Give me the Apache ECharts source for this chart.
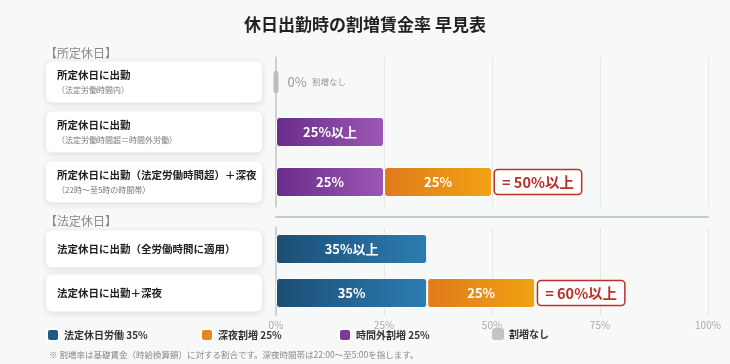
<!DOCTYPE html>
<html>
<head>
<meta charset="utf-8">
<script src="https://cdn.jsdelivr.net/npm/echarts@6/dist/echarts.min.js"></script>
<style>
html,body{margin:0;padding:0;background:#f7f8f8;}
#c{width:730px;height:364px;}
</style>
</head>
<body>
<div id="c"></div>
<script>
// ---- data ----
const rowTitles1 = ['所定休日に出勤', '所定休日に出勤', '所定休日に出勤（法定労働時間超）＋深夜'];
const rowSubs1 = ['（法定労働時間内）', '（法定労働時間超＝時間外労働）', '（22時〜至5時の時間帯）'];
const rowTitles2 = ['法定休日に出勤（全労働時間に適用）', '法定休日に出勤＋深夜'];
const sectionLabels = ['【所定休日】', '【法定休日】'];

const noneValues1 = [0, '-', '-'];
const overtimeValues1 = ['-', 25, 25];
const overtimeLabels1 = ['', '25%以上', '25%'];
const lateNightValues1 = ['-', '-', 25];
const lateNightValues2 = ['-', 25];
const lateNightLabels = ['25%', '25%'];
const holidayValues2 = [35, 35];
const holidayLabels2 = ['35%以上', '35%'];
const totals1 = ['-', '-', 50];
const totals2 = ['-', 60];

const xTicks = [0, 25, 50, 75, 100];
const seriesNames = ['法定休日労働 35%', '深夜割増 25%', '時間外割増 25%', '割増なし'];
const footnote = '※ 割増率は基礎賃金（時給換算額）に対する割合です。深夜時間帯は22:00〜至5:00を指します。';
const chartTitle = '休日出勤時の割増賃金率 早見表';

// ---- style ----
const FONT = '"Noto Sans CJK JP", "Noto Sans", sans-serif';
const grad = (a, b) => new echarts.graphic.LinearGradient(0, 0, 1, 0, [{offset: 0, color: a}, {offset: 1, color: b}]);
const C_BLUE = grad('#1b4e74', '#2b7db3');
const C_ORANGE = grad('#e07a1c', '#f2a212');
const C_PURPLE = grad('#6a2c8a', '#9b58b3');
const C_GRAY = '#bdbdbd';
const SOLID = {blue: '#1f5a85', orange: '#e8861c', purple: '#7d3a9c', gray: '#c3c3c3'};

const cats1 = rowTitles1.map((t, i) => t + '|' + rowSubs1[i]);
const cats2 = rowTitles2.slice();

const cardBase = {
  align: 'left', margin: 230, width: 194,
  backgroundColor: '#ffffff', borderRadius: 6,
  shadowBlur: 7, shadowColor: 'rgba(0,0,0,0.12)', shadowOffsetY: 1.5,
  fontFamily: FONT
};

const xBase = {
  type: 'value', min: 0, max: 100, interval: 25,
  splitLine: {show: true, lineStyle: {color: '#e6e8e8', width: 1}},
  axisTick: {show: false}
};

const barLabel = (arr, size, weight) => ({
  show: true, position: 'inside', color: '#fff', fontFamily: FONT,
  fontWeight: weight, fontSize: size,
  formatter: p => arr[p.dataIndex]
});

const toPoints = arr => arr.map((v, i) => v === '-' ? null : [v, i]).filter(Boolean);

const totalLabel = {
  show: true, position: 'right', distance: 3,
  formatter: p => '= ' + p.value[0] + '%以上',
  color: '#b8322a', fontFamily: FONT, fontWeight: 'bold', fontSize: 14.5,
  backgroundColor: '#fff', borderColor: '#b8322a', borderWidth: 1.5, borderRadius: 3,
  padding: [5, 7, 4, 7]
};

const barItem = c => ({color: c, borderRadius: 3, borderColor: '#fff', borderWidth: 1});

const chart = echarts.init(document.getElementById('c'), null, {renderer: 'canvas'});
chart.setOption({
  backgroundColor: '#f7f8f8',
  animation: false,
  textStyle: {fontFamily: FONT},
  title: [
    {text: chartTitle, left: 'center', top: 11, textStyle: {fontSize: 17, fontWeight: 'bold', color: '#222', fontFamily: FONT}},
    {text: sectionLabels[0], left: 40, top: 42, textStyle: {fontSize: 12, fontWeight: 'normal', color: '#888', fontFamily: FONT}},
    {text: sectionLabels[1], left: 40, top: 210, textStyle: {fontSize: 12, fontWeight: 'normal', color: '#888', fontFamily: FONT}},
    {text: footnote, left: 44, top: 346, textStyle: {fontSize: 8.5, fontWeight: 'normal', color: '#888', fontFamily: FONT}}
  ],
  legend: [
    {name: seriesNames[0], left: 46, color: SOLID.blue},
    {name: seriesNames[1], left: 200, color: SOLID.orange},
    {name: seriesNames[2], left: 338, color: SOLID.purple},
    {name: seriesNames[3], left: 492, color: SOLID.gray}
  ].map(l => ({
    data: [{name: l.name, itemStyle: {color: l.color, opacity: 1}}],
    left: l.left, top: 328, padding: 0, icon: 'roundRect',
    itemWidth: 12, itemHeight: 12, itemGap: 5,
    textStyle: {fontSize: 10, fontWeight: 'bold', color: '#333', fontFamily: FONT}
  })),
  grid: [
    {left: 276, right: 22, top: 57, height: 150},
    {left: 276, right: 22, top: 227, height: 88}
  ],
  xAxis: [
    Object.assign({}, xBase, {gridIndex: 0, offset: 10,
      axisLabel: {show: false},
      axisLine: {show: true, lineStyle: {color: '#c8cbcb', width: 2}}}),
    Object.assign({}, xBase, {gridIndex: 1,
      axisLine: {show: false},
      axisLabel: {show: true, color: '#aaa', fontSize: 10, margin: 5, formatter: '{value}%', fontFamily: FONT}})
  ],
  yAxis: [
    {type: 'category', gridIndex: 0, inverse: true, data: cats1,
      axisTick: {show: false},
      axisLine: {show: true, lineStyle: {color: '#c4c6c6', width: 1.5}},
      axisLabel: Object.assign({}, cardBase, {
        padding: [6, 11, 6, 11],
        formatter: v => { const p = v.split('|'); return '{t|' + p[0] + '}\n{s|' + p[1] + '}'; },
        rich: {
          t: {fontSize: 10.5, fontWeight: 'bold', color: '#222', lineHeight: 16, fontFamily: FONT},
          s: {fontSize: 8, color: '#777', lineHeight: 13, fontFamily: FONT}
        }
      })},
    {type: 'category', gridIndex: 1, inverse: true, data: cats2,
      axisTick: {show: false},
      axisLine: {show: true, lineStyle: {color: '#c4c6c6', width: 1.5}},
      axisLabel: Object.assign({}, cardBase, {
        padding: [11, 11, 11, 11], lineHeight: 15,
        fontSize: 10.5, fontWeight: 'bold', color: '#222'
      })}
  ],
  series: [
    {name: seriesNames[2], type: 'bar', xAxisIndex: 0, yAxisIndex: 0, stack: 'g1', barWidth: 30,
      data: overtimeValues1, itemStyle: barItem(C_PURPLE),
      label: barLabel(overtimeLabels1, 13, 'bold')},
    {name: seriesNames[1], type: 'bar', xAxisIndex: 0, yAxisIndex: 0, stack: 'g1', barWidth: 30,
      data: lateNightValues1, itemStyle: barItem(C_ORANGE),
      label: barLabel(['', '', lateNightLabels[0]], 13, 'bold')},
    {name: seriesNames[3], type: 'scatter', xAxisIndex: 0, yAxisIndex: 0,
      data: toPoints(noneValues1), symbol: 'roundRect', symbolSize: [5, 22],
      itemStyle: {color: C_GRAY, opacity: 1},
      label: {show: true, position: 'right', distance: 9,
        formatter: p => '{a|' + p.value[0] + '%}  {b|割増なし}',
        rich: {a: {fontSize: 13, color: '#9a9a9a', fontFamily: FONT}, b: {fontSize: 8.5, color: '#9a9a9a', fontFamily: FONT}}}},
    {name: 'total1', type: 'scatter', xAxisIndex: 0, yAxisIndex: 0, symbolSize: 0, silent: true, z: 5,
      itemStyle: {opacity: 1},
      data: toPoints(totals1), label: totalLabel},
    {name: seriesNames[0], type: 'bar', xAxisIndex: 1, yAxisIndex: 1, stack: 'g2', barWidth: 30,
      data: holidayValues2, itemStyle: barItem(C_BLUE),
      label: barLabel(holidayLabels2, 13, 'bold')},
    {name: seriesNames[1], type: 'bar', xAxisIndex: 1, yAxisIndex: 1, stack: 'g2', barWidth: 30,
      data: lateNightValues2, itemStyle: barItem(C_ORANGE),
      label: barLabel(['', lateNightLabels[1]], 13, 'bold')},
    {name: 'total2', type: 'scatter', xAxisIndex: 1, yAxisIndex: 1, symbolSize: 0, silent: true, z: 5,
      itemStyle: {opacity: 1},
      data: toPoints(totals2), label: totalLabel}
  ]
});
</script>
</body>
</html>
